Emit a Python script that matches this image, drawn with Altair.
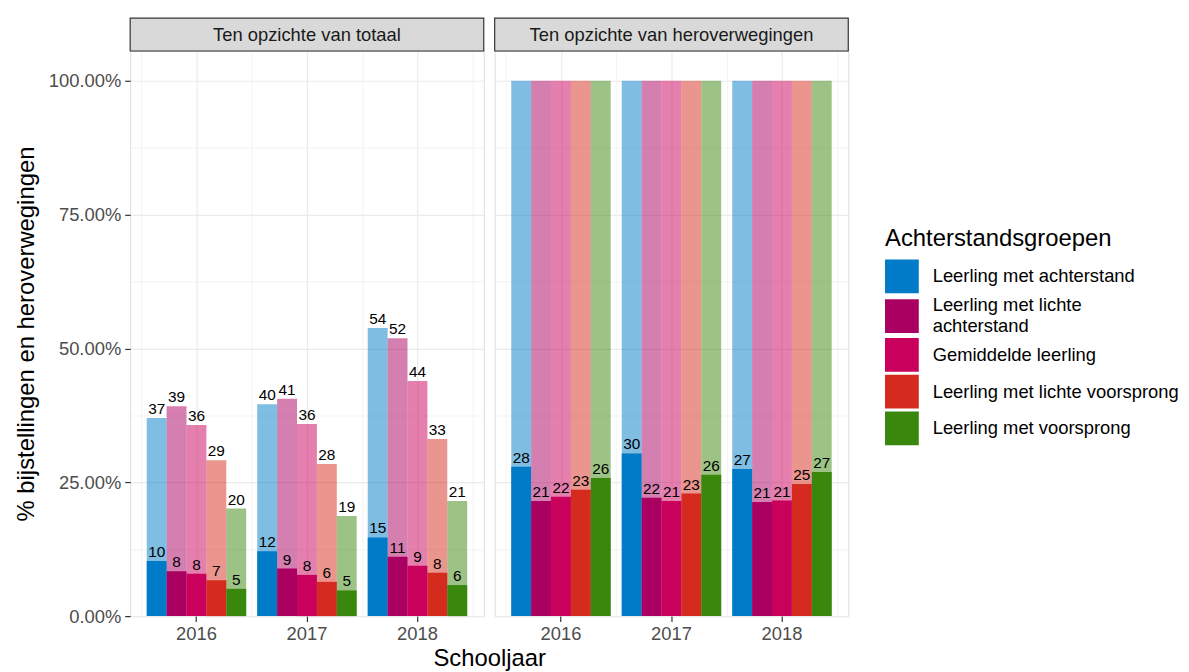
import altair as alt
import pandas as pd

FONT = "Liberation Sans"

jaren = ["2016", "2017", "2018"]
groepen = [
    "Leerling met achterstand",
    "Leerling met lichte achterstand",
    "Gemiddelde leerling",
    "Leerling met lichte voorsprong",
    "Leerling met voorsprong",
]
kleuren = ["#007BC7", "#A90061", "#CA005D", "#D52B1E", "#39870C"]
panelen = ["Ten opzichte van totaal", "Ten opzichte van heroverwegingen"]

# values per year (2016, 2017, 2018), within a year per group (order of `groepen`), in %
totaal_licht = [37.0, 39.2, 35.7, 29.1, 20.1, 39.6, 40.6, 35.9, 28.4, 18.7, 53.8, 51.9, 43.9, 33.1, 21.5]
totaal_licht_label = [37, 39, 36, 29, 20, 40, 41, 36, 28, 19, 54, 52, 44, 33, 21]
totaal_vol = [10.3, 8.4, 7.9, 6.7, 5.1, 12.1, 8.9, 7.7, 6.4, 4.8, 14.7, 11.1, 9.4, 8.1, 5.8]
totaal_vol_label = [10, 8, 8, 7, 5, 12, 9, 8, 6, 5, 15, 11, 9, 8, 6]
herov_licht = [100, 100, 100, 100, 100, 100, 100, 100, 100, 100, 100, 100, 100, 100, 100]
herov_vol = [27.9, 21.5, 22.3, 23.6, 25.8, 30.4, 22.1, 21.5, 22.9, 26.4, 27.5, 21.3, 21.6, 24.7, 26.9]
herov_vol_label = [28, 21, 22, 23, 26, 30, 22, 21, 23, 26, 27, 21, 21, 25, 27]

y_ticks = [0, 12.5, 25, 37.5, 50, 62.5, 75, 87.5, 100]
x_grid = [2015.5, 2016, 2016.5, 2017, 2017.5, 2018, 2018.5]

W, H = 356, 569
YMAX = 105.57
GRID = "#EBEBEB"
minor_y = "datum.value % 25 != 0"
grid_w_y = {"condition": {"test": minor_y, "value": 0.6}, "value": 1.2}
TWO_LINE = "Leerling met lichte achterstand"


def make_df(licht, licht_lab, vol, vol_lab, light_labels):
    rows = []
    i = 0
    for j in jaren:
        for g in groepen:
            rows.append(dict(jaar=j, groep=g, waarde=licht[i],
                             label=(str(licht_lab[i]) if light_labels else ""), soort="licht"))
            rows.append(dict(jaar=j, groep=g, waarde=vol[i],
                             label=str(vol_lab[i]), soort="vol"))
            i += 1
    return pd.DataFrame(rows)


legend = alt.Legend(
    title="Achterstandsgroepen",
    orient="none",
    legendX=760,
    legendY=177,
    symbolType="square",
    symbolSize=1156,
    symbolStrokeWidth=0,
    symbolOpacity=1,
    labelFont=FONT,
    labelFontSize=18.5,
    labelColor="black",
    labelOffset=14,
    labelLimit=400,
    labelExpr=f"datum.label == '{TWO_LINE}' ? ['Leerling met lichte', 'achterstand'] : datum.label",
    labelBaseline={"expr": f"datum.label == '{TWO_LINE}' ? 'line-bottom' : 'middle'"},
    titleFont=FONT,
    titleFontSize=24,
    titleFontWeight="normal",
    titleColor="black",
    titleLimit=500,
    titlePadding=9,
    rowPadding=3,
    padding=0,
)

color_enc = alt.Color(
    "groep:N",
    sort=groepen,
    scale=alt.Scale(domain=groepen, range=kleuren),
    legend=legend,
)


def panel(idx, df, left):
    base = alt.Chart(df)
    if left:
        x_axis = alt.Axis(
            grid=False, domain=False, tickColor="#333333", tickSize=5.5, tickWidth=1.2,
            labelFont=FONT, labelFontSize=18.5, labelColor="#4D4D4D", labelPadding=3,
            labelAngle=0,
            title="Schooljaar",
            titleFont=FONT, titleFontSize=24, titleFontWeight="normal", titleColor="black",
            titleX=W + 5.5, titleY=31, titleAlign="center", titleBaseline="top",
        )
    else:
        x_axis = alt.Axis(
            grid=False, domain=False, tickColor="#333333", tickSize=5.5, tickWidth=1.2,
            labelFont=FONT, labelFontSize=18.5, labelColor="#4D4D4D", labelPadding=3,
            labelAngle=0, title=None,
        )
    x_enc = alt.X("jaar:N", sort=jaren,
                  scale=alt.Scale(domain=jaren, paddingInner=0.1, paddingOuter=0.15),
                  axis=x_axis)
    xo_enc = alt.XOffset("groep:N", sort=groepen,
                         scale=alt.Scale(domain=groepen, paddingInner=0, paddingOuter=0))
    if left:
        y_axis = alt.Axis(
            values=y_ticks,
            labelExpr="datum.value % 25 == 0 ? format(datum.value / 100, '.2%') : ''",
            tickOpacity={"condition": {"test": minor_y, "value": 0}, "value": 1},
            grid=True, gridColor=GRID, gridWidth=grid_w_y,
            domain=False, tickColor="#333333", tickSize=5.5, tickWidth=1.2,
            labelFont=FONT, labelFontSize=18.5, labelColor="#4D4D4D", labelPadding=4,
            title="% bijstellingen en heroverwegingen",
            titleFont=FONT, titleFontSize=24, titleFontWeight="normal", titleColor="black",
            titlePadding=10,
        )
    else:
        y_axis = alt.Axis(
            values=y_ticks, grid=True, gridColor=GRID, gridWidth=grid_w_y,
            labels=False, ticks=False, domain=False, title=None,
        )
    y_enc = alt.Y("waarde:Q", scale=alt.Scale(domain=[0, YMAX], nice=False, zero=True),
                  axis=y_axis)

    licht = base.transform_filter("datum.soort == 'licht'").mark_bar(opacity=0.5).encode(
        x=x_enc, xOffset=xo_enc, y=y_enc, color=color_enc)
    vol = base.transform_filter("datum.soort == 'vol'").mark_bar().encode(
        x=x_enc, xOffset=xo_enc, y=y_enc, color=color_enc)
    tekst = base.transform_filter("datum.label != ''").mark_text(
        baseline="alphabetic", dy=-4, font=FONT, fontSize=15.5, color="black"
    ).encode(x=x_enc, xOffset=xo_enc, y=y_enc, text="label:N")

    bars = alt.layer(licht, vol, tekst)

    helper = base.transform_filter("datum.soort == 'vol'").transform_calculate(
        jnum="toNumber(datum.jaar)"
    ).mark_point(opacity=0).encode(
        x=alt.X("jnum:Q", scale=alt.Scale(domain=[2015.4, 2018.6], nice=False, zero=False),
                axis=alt.Axis(values=x_grid, grid=True, gridColor=GRID,
                              gridWidth={"condition": {"test": "datum.value % 1 != 0", "value": 0.6},
                                         "value": 1.2},
                              labels=False, ticks=False, domain=False, title=None, orient="top"))
    )

    strip_df = pd.DataFrame({"paneel": [panelen[idx]]})
    strip_rect = alt.Chart(strip_df).mark_rect(
        fill="#D9D9D9", stroke="#333333", strokeWidth=1.2
    ).encode(x=alt.value(0), x2=alt.value(W), y=alt.value(-33), y2=alt.value(0))
    strip_text = alt.Chart(strip_df).mark_text(
        font=FONT, fontSize=18.5, color="#1A1A1A", baseline="middle", align="center"
    ).encode(text="paneel:N", x=alt.value(W / 2), y=alt.value(-16))

    return alt.layer(helper, bars, strip_rect, strip_text).resolve_scale(
        x="independent"
    ).properties(width=W, height=H)


links = panel(0, make_df(totaal_licht, totaal_licht_label, totaal_vol, totaal_vol_label, True), True)
rechts = panel(1, make_df(herov_licht, totaal_licht_label, herov_vol, herov_vol_label, False), False)

chart = alt.hconcat(links, rechts, spacing=11, bounds="flush").resolve_scale(
    color="shared", y="independent", x="independent"
).properties(
    padding={"left": 5, "top": 6, "right": 2, "bottom": 0}
).configure_view(
    stroke="#333333", strokeWidth=1.5
).configure(background="white")

chart.save("out.html", embed_options={"renderer": "svg", "actions": False})
